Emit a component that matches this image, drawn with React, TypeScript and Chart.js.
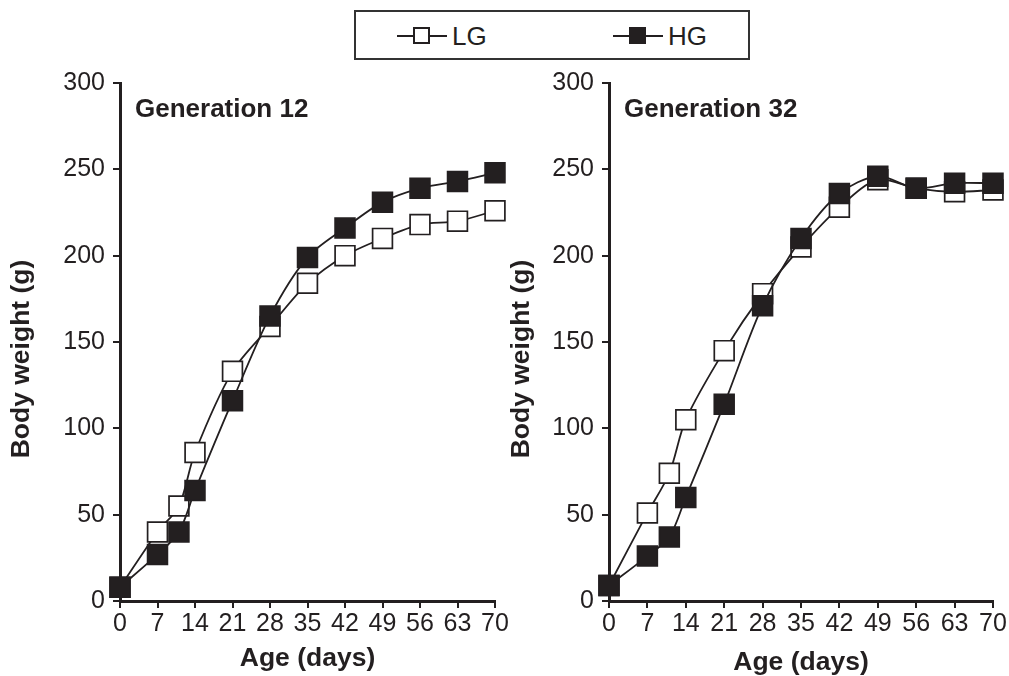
import React, { useEffect, useRef } from "react";
import { Chart, registerables } from "chart.js";

Chart.register(...registerables);

// ---------- data ----------
const ageDays = [0, 7, 11, 14, 21, 28, 35, 42, 49, 56, 63, 70];
const gen12LG = [8, 40, 55, 86, 133, 159, 184, 200, 210, 218, 220, 226];
const gen12HG = [8, 27, 40, 64, 116, 165, 199, 216, 231, 239, 243, 248];
const gen32LG = [9, 51, 74, 105, 145, 178, 205, 228, 244, 239, 237, 238];
const gen32HG = [9, 26, 37, 60, 114, 171, 210, 236, 246, 239, 242, 242];
const xTickValues = [0, 7, 14, 21, 28, 35, 42, 49, 56, 63, 70];
const yTickValues = [0, 50, 100, 150, 200, 250, 300];
const seriesNames = ["LG", "HG"];
const panelTitles = ["Generation 12", "Generation 32"];
const xAxisTitle = "Age (days)";
const yAxisTitle = "Body weight (g)";

// ---------- style ----------
const INK = "#231f20";
const FONT = "'Liberation Sans', Arial, Helvetica, sans-serif";

const toPoints = (ys: number[]) => ys.map((y, i) => ({ x: ageDays[i], y }));

const panelText = {
  id: "panelText",
  afterDraw(chart: any, _args: any, opts: any) {
    const { ctx, chartArea } = chart;
    ctx.save();
    ctx.fillStyle = INK;
    ctx.textBaseline = "middle";
    ctx.textAlign = "left";
    ctx.font = `bold 26px ${FONT}`;
    ctx.fillText(opts.title, chartArea.left + opts.titleDx, chartArea.top + opts.titleDy);
    ctx.font = `bold 26.5px ${FONT}`;
    ctx.translate(opts.yTitleX, (chartArea.top + chartArea.bottom) / 2 + opts.yTitleDy);
    ctx.rotate(-Math.PI / 2);
    ctx.textAlign = "center";
    ctx.fillText(opts.yTitle, 0, 0);
    ctx.restore();
  },
};

type PanelOpts = {
  title: string;
  lg: number[];
  hg: number[];
  padRight: number;
  yWidth: number;
  xTitlePad: number;
};

function buildConfig(p: PanelOpts): any {
  const tickFont = { family: FONT, size: 25 };
  const common = {
    borderColor: INK,
    pointBorderColor: INK,
    pointStyle: "rect",
    pointRadius: 14,
    pointBorderWidth: 1.7,
    borderWidth: 1.8,
    tension: 0.3,
    clip: false,
  };
  return {
    type: "line",
    data: {
      datasets: [
        {
          ...common,
          label: seriesNames[1],
          data: toPoints(p.hg),
          backgroundColor: INK,
          pointBackgroundColor: INK,
          order: 0,
        },
        {
          ...common,
          label: seriesNames[0],
          data: toPoints(p.lg),
          backgroundColor: "#ffffff",
          pointBackgroundColor: "#ffffff",
          order: 1,
        },
      ],
    },
    plugins: [panelText],
    options: {
      responsive: false,
      animation: false,
      devicePixelRatio: 1,
      events: [],
      layout: { padding: { top: 83, right: p.padRight, left: 0, bottom: 0 } },
      plugins: {
        legend: { display: false },
        tooltip: { enabled: false },
        panelText: {
          title: p.title,
          titleDx: 15,
          titleDy: 27,
          yTitle: yAxisTitle,
          yTitleX: 22,
          yTitleDy: 17,
        },
      },
      scales: {
        x: {
          type: "linear",
          min: 0,
          max: 70,
          afterBuildTicks: (s: any) => {
            s.ticks = xTickValues.map((v) => ({ value: v }));
          },
          afterFit: (s: any) => {
            s.height = 75;
          },
          ticks: { font: tickFont, color: INK, padding: 1, maxRotation: 0, autoSkip: false },
          grid: { drawOnChartArea: false, drawTicks: true, tickLength: 7, color: INK, lineWidth: 2 },
          border: { display: true, color: INK, width: 3 },
          title: {
            display: true,
            text: xAxisTitle,
            color: INK,
            font: { family: FONT, size: 26.5, weight: "bold" },
            padding: { top: 0, bottom: p.xTitlePad },
          },
        },
        y: {
          type: "linear",
          min: 0,
          max: 300,
          afterBuildTicks: (s: any) => {
            s.ticks = yTickValues.map((v) => ({ value: v }));
          },
          afterFit: (s: any) => {
            s.width = p.yWidth;
          },
          ticks: { font: tickFont, color: INK, padding: 8, autoSkip: false },
          grid: { drawOnChartArea: false, drawTicks: true, tickLength: 7, color: INK, lineWidth: 2 },
          border: { display: true, color: INK, width: 3 },
        },
      },
    },
  };
}

function Panel(props: PanelOpts & { left: number; width: number }) {
  const ref = useRef<HTMLCanvasElement | null>(null);
  useEffect(() => {
    if (!ref.current) return;
    const chart = new Chart(ref.current, buildConfig(props));
    return () => chart.destroy();
  }, []);
  return (
    <canvas
      ref={ref}
      width={props.width}
      height={676}
      style={{ position: "absolute", left: props.left, top: 0, width: props.width, height: 676 }}
    />
  );
}

function LegendItem({ x, filled, label }: { x: number; filled: boolean; label: string }) {
  return (
    <>
      <div
        style={{
          position: "absolute",
          left: x,
          top: 23,
          width: 50,
          height: 2,
          background: INK,
        }}
      />
      <div
        style={{
          position: "absolute",
          left: x + 16,
          top: 15,
          width: 17,
          height: 17,
          boxSizing: "border-box",
          border: `2px solid ${INK}`,
          background: filled ? INK : "#ffffff",
        }}
      />
      <div
        style={{
          position: "absolute",
          left: x + 55,
          top: 8,
          fontFamily: FONT,
          fontSize: 26,
          lineHeight: "32px",
          color: INK,
        }}
      >
        {label}
      </div>
    </>
  );
}

export default function App() {
  return (
    <div
      style={{
        position: "fixed",
        left: 0,
        top: 0,
        width: 1009,
        height: 676,
        background: "#ffffff",
        overflow: "hidden",
      }}
    >
      <Panel
        title={panelTitles[0]}
        lg={gen12LG}
        hg={gen12HG}
        left={0}
        width={520}
        padRight={25}
        yWidth={120}
        xTitlePad={1}
      />
      <Panel
        title={panelTitles[1]}
        lg={gen32LG}
        hg={gen32HG}
        left={500}
        width={509}
        padRight={16}
        yWidth={109}
        xTitlePad={-3}
      />
      <div
        style={{
          position: "absolute",
          left: 354,
          top: 10,
          width: 396,
          height: 50,
          boxSizing: "border-box",
          border: "2px solid #333333",
          background: "#ffffff",
        }}
      >
        <LegendItem x={41} filled={false} label={seriesNames[0]} />
        <LegendItem x={257} filled={true} label={seriesNames[1]} />
      </div>
    </div>
  );
}
